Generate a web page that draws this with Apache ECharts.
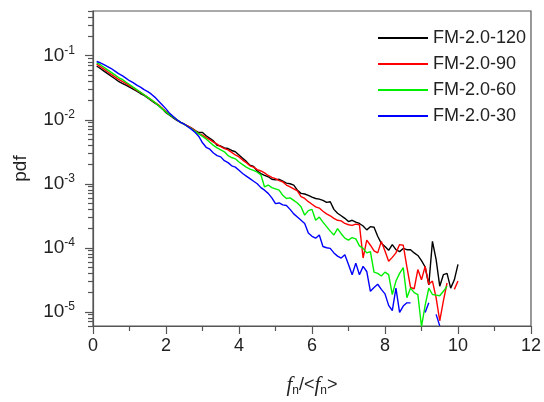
<!DOCTYPE html>
<html><head><meta charset="utf-8">
<script src="https://cdn.jsdelivr.net/npm/echarts@6/dist/echarts.min.js"></script>
<style>html,body{margin:0;padding:0;background:#fff}#c{width:544px;height:402px}</style>
</head><body><div id="c"></div>
<script>
// x positions f_n/<f_n>
const fn = [0.1,0.2,0.3,0.4,0.5,0.6,0.7,0.8,0.9,1.0,
1.1,1.2,1.3,1.4,1.5,1.6,1.7,1.8,1.9,2.0,
2.1,2.2,2.3,2.4,2.5,2.6,2.7,2.8,2.9,3.0,
3.1,3.2,3.3,3.4,3.5,3.6,3.7,3.8,3.9,4.0,
4.1,4.2,4.3,4.4,4.5,4.6,4.7,4.8,4.9,5.0,
5.1,5.2,5.3,5.4,5.5,5.6,5.7,5.8,5.9,6.0,
6.1,6.2,6.3,6.4,6.5,6.6,6.7,6.8,6.9,7.0,
7.1,7.2,7.3,7.4,7.5,7.6,7.7,7.8,7.9,8.0,
8.1,8.2,8.3,8.4,8.5,8.6,8.7,8.8,8.9,9.0,
9.1,9.2,9.3,9.4,9.5,9.6,9.7,9.8,9.9,10.0];

// log10(pdf)
const log10Pdf120 = [-1.16,-1.20,-1.24,-1.28,-1.32,-1.36,-1.40,-1.43,-1.46,-1.49,
-1.52,-1.555,-1.59,-1.62,-1.66,-1.70,-1.74,-1.78,-1.83,-1.89,
-1.93,-1.97,-2.01,-2.04,-2.07,-2.10,-2.13,-2.17,-2.20,-2.20,
-2.25,-2.29,-2.33,-2.40,-2.41,-2.44,-2.45,-2.48,-2.50,-2.55,
-2.60,-2.65,-2.71,-2.73,-2.80,-2.84,-2.87,-2.89,-2.93,-2.94,
-2.93,-2.96,-2.99,-3.00,-3.02,-3.10,-3.15,-3.16,-3.18,-3.21,
-3.23,-3.24,-3.26,-3.29,-3.28,-3.40,-3.46,-3.50,-3.54,-3.59,
-3.57,-3.60,-3.62,-3.66,-3.72,-3.67,-3.68,-3.82,-3.93,-3.98,
-4.04,-3.95,-4.03,-4.06,-4.01,-4.03,-4.03,-4.08,-4.12,-4.20,
-4.30,-4.58,-3.90,-4.18,-4.60,-4.42,-4.40,-4.63,-4.50,-4.26];

const log10Pdf90 = [-1.13,-1.17,-1.21,-1.25,-1.29,-1.33,-1.37,-1.40,-1.43,-1.47,
-1.50,-1.54,-1.57,-1.61,-1.65,-1.69,-1.73,-1.77,-1.82,-1.87,
-1.91,-1.96,-2.00,-2.04,-2.07,-2.10,-2.13,-2.17,-2.22,-2.24,
-2.28,-2.31,-2.35,-2.38,-2.42,-2.45,-2.47,-2.51,-2.55,-2.58,
-2.63,-2.67,-2.72,-2.74,-2.78,-2.80,-2.83,-2.87,-2.90,-2.92,
-2.95,-2.97,-3.02,-3.05,-3.08,-3.11,-3.20,-3.23,-3.28,-3.32,
-3.36,-3.38,-3.43,-3.47,-3.50,-3.54,-3.57,-3.58,-3.62,-3.64,
-3.65,-3.63,-3.64,-4.16,-3.88,-3.96,-4.05,-4.08,-3.90,-4.05,
-4.21,-4.15,-4.08,-3.95,-3.96,-4.30,-4.62,-4.64,-4.34,-4.50,
-4.29,-4.57,-4.52,-4.78,-5.14,-4.83,-4.55,null,-4.65,-4.52];

const log10Pdf60 = [-1.11,-1.14,-1.18,-1.22,-1.26,-1.30,-1.34,-1.37,-1.41,-1.45,
-1.49,-1.53,-1.57,-1.61,-1.65,-1.69,-1.73,-1.78,-1.83,-1.88,
-1.92,-1.96,-2.00,-2.04,-2.07,-2.11,-2.14,-2.18,-2.22,-2.26,
-2.30,-2.35,-2.40,-2.44,-2.47,-2.50,-2.56,-2.59,-2.61,-2.66,
-2.70,-2.74,-2.77,-2.79,-2.82,-2.86,-3.05,-3.02,-3.06,-3.08,
-3.10,-3.18,-3.23,-3.22,-3.26,-3.30,-3.36,-3.49,-3.42,-3.40,
-3.57,-3.52,-3.60,-3.67,-3.74,-3.80,-3.70,-3.78,-3.85,-3.88,
-3.84,-3.86,-3.97,-4.01,-4.08,-4.06,-4.38,-4.40,-4.44,-4.38,
-4.42,-4.73,-4.52,-4.40,-4.31,-4.78,-4.63,-4.70,-4.73,-5.23,
-4.90,-4.63,-4.73,-4.74,-4.75,-4.68,-4.60,null,null,null];

const log10Pdf30 = [-1.09,-1.11,-1.14,-1.17,-1.20,-1.24,-1.28,-1.31,-1.35,-1.39,
-1.42,-1.46,-1.49,-1.53,-1.56,-1.60,-1.65,-1.71,-1.77,-1.83,
-1.90,-1.95,-2.00,-2.04,-2.07,-2.11,-2.15,-2.20,-2.26,-2.36,
-2.43,-2.46,-2.52,-2.56,-2.58,-2.64,-2.67,-2.72,-2.74,-2.79,
-2.84,-2.88,-2.92,-2.96,-3.00,-3.06,-3.10,-3.15,-3.22,-3.31,
-3.30,-3.33,-3.34,-3.40,-3.47,-3.52,-3.57,-3.62,-3.77,-3.82,
-3.85,-3.80,-3.98,-4.00,-4.01,-4.08,-4.13,-4.16,-4.11,-4.26,
-4.42,-4.24,-4.42,-4.29,-4.37,-4.68,-4.62,-4.57,-4.65,-4.72,
-4.90,-4.98,-4.63,-5.01,-4.91,-4.86,-4.86,null,null,null,
-5.01,-4.86,null,-5.04,-5.22,null,null,null,null,null];

const seriesNames = ['FM-2.0-120','FM-2.0-90','FM-2.0-60','FM-2.0-30'];
const seriesColors = ['#000000','#ff0000','#00ee00','#0000ff'];
const seriesLogs = [log10Pdf120, log10Pdf90, log10Pdf60, log10Pdf30];

const xTicks = [0,2,4,6,8,10,12];
const yMajorTicks = [1e-5,1e-4,1e-3,1e-2,1e-1];
const yMin = 6e-6, yMax = 0.5;

const yMinorTicks = [];
for (let e = -6; e <= -1; e++) {
  for (let k = 2; k <= 9; k++) {
    const v = k * Math.pow(10, e);
    if (v >= yMin && v <= yMax) yMinorTicks.push(v);
  }
}

const axisColor = '#555';
const font = 'Liberation Sans';

const chart = echarts.init(document.getElementById('c'), null, {renderer: 'canvas'});
chart.setOption({
  animation: false,
  backgroundColor: '#fff',
  grid: {left: 93, right: 12, top: 11, bottom: 73, show: true, borderColor: axisColor, borderWidth: 1.2, backgroundColor: 'transparent'},
  legend: {
    orient: 'vertical', left: 373, top: 24,
    itemWidth: 50, itemHeight: 2, itemGap: 8, icon: 'rect',
    data: seriesNames,
    textStyle: {fontFamily: font, fontSize: 18, color: '#222', lineHeight: 18}
  },
  xAxis: {
    type: 'value', min: 0, max: 12, interval: 2,
    axisLine: {lineStyle: {color: axisColor, width: 1.2}},
    axisTick: {length: 8, lineStyle: {color: axisColor, width: 1.2}},
    minorTick: {show: true, splitNumber: 2, length: 5, lineStyle: {color: axisColor, width: 1.2}},
    splitLine: {show: false},
    axisLabel: {fontFamily: font, fontSize: 18, color: '#222', margin: 11,
      customValues: xTicks},
    name: '{f|f}{n|n}{t|/<}{f|f}{n|n}{t|>}',
    nameLocation: 'middle', nameGap: 47,
    nameTextStyle: {
      rich: {
        f: {fontFamily: 'Liberation Serif', fontStyle: 'italic', fontSize: 21, color: '#222'},
        n: {fontFamily: font, fontSize: 12, color: '#222', padding: [12, 0, 0, 0]},
        t: {fontFamily: font, fontSize: 18, color: '#222'}
      }
    }
  },
  yAxis: [{
    type: 'log', logBase: 10, min: yMin, max: yMax,
    axisLine: {show: true, lineStyle: {color: axisColor, width: 1.2}},
    axisTick: {show: true, length: 8, customValues: yMajorTicks, lineStyle: {color: axisColor, width: 1.2}},
    splitLine: {show: false},
    axisLabel: {
      customValues: yMajorTicks, margin: 18,
      formatter: function (v) {
        const e = Math.round(Math.log10(v));
        return '{b|10}{s|' + e + '}';
      },
      rich: {
        b: {fontFamily: font, fontSize: 19, color: '#222'},
        s: {fontFamily: font, fontSize: 12, color: '#222', padding: [0, 0, 11, 0]}
      }
    },
    name: 'pdf', nameLocation: 'middle', nameGap: 63, nameRotate: 90,
    nameTextStyle: {fontFamily: font, fontSize: 19, color: '#222'}
  }, {
    type: 'log', logBase: 10, min: yMin, max: yMax, position: 'left',
    axisLine: {show: false},
    axisTick: {show: true, length: 5, customValues: yMinorTicks, lineStyle: {color: axisColor, width: 1.2}},
    axisLabel: {show: false},
    splitLine: {show: false}
  }],
  series: seriesNames.map((name, s) => ({
    name: name, type: 'line', yAxisIndex: 0,
    showSymbol: false, symbol: 'none', clip: true,
    color: seriesColors[s],
    lineStyle: {width: 1.4, color: seriesColors[s]},
    data: fn.map((x, i) => seriesLogs[s][i] == null ? [x, '-'] : [x, Math.pow(10, seriesLogs[s][i])])
  }))
});
</script>
</body></html>
